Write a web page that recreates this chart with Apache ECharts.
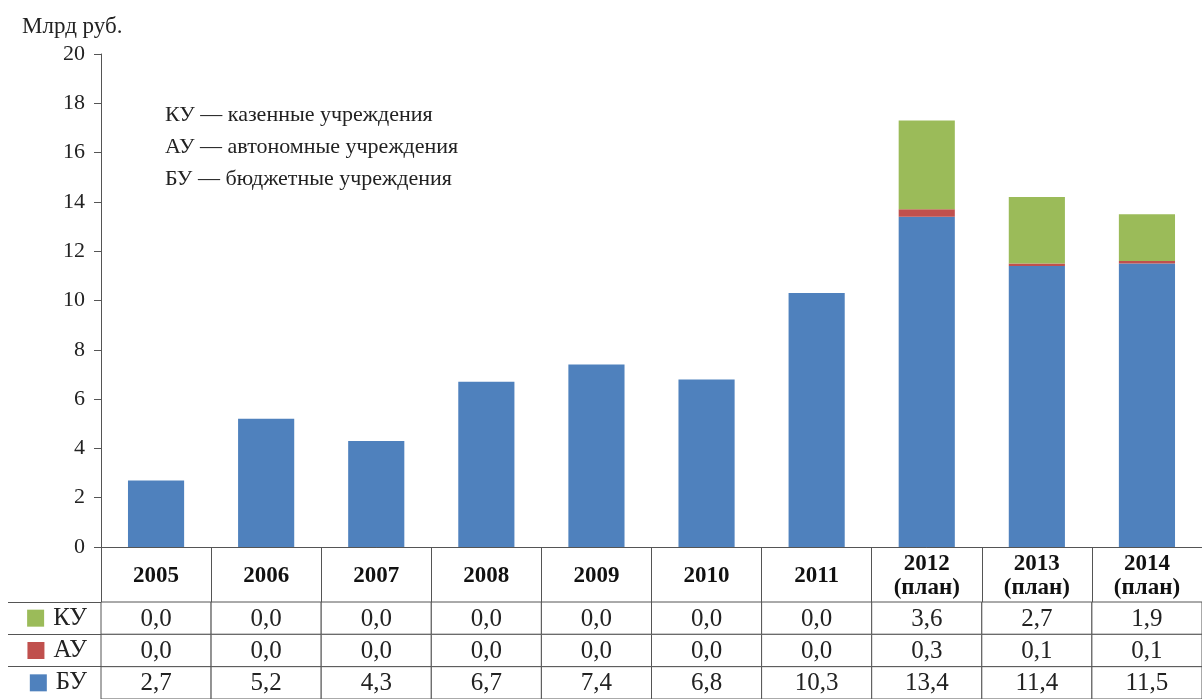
<!DOCTYPE html>
<html>
<head>
<meta charset="utf-8">
<script src="https://cdn.jsdelivr.net/npm/echarts@6/dist/echarts.min.js"></script>
<style>html,body{margin:0;padding:0;background:#fff}#c{width:1202px;height:699px}</style>
</head>
<body>
<div id="c"></div>
<script>
var years = ['2005','2006','2007','2008','2009','2010','2011','2012\n(план)','2013\n(план)','2014\n(план)'];
var seriesNames = ['КУ','АУ','БУ'];
var KU = [0.0,0.0,0.0,0.0,0.0,0.0,0.0,3.6,2.7,1.9];
var AU = [0.0,0.0,0.0,0.0,0.0,0.0,0.0,0.3,0.1,0.1];
var BU = [2.7,5.2,4.3,6.7,7.4,6.8,10.3,13.4,11.4,11.5];
var colors = {'КУ':'#9bbb59','АУ':'#c0504d','БУ':'#4f81bd'};
var noteLines = ['КУ — казенные учреждения','АУ — автономные учреждения','БУ — бюджетные учреждения'];
var yTitle = 'Млрд руб.';

var FONT = 'Liberation Serif';
var AX = '#555555';
var rows = {'КУ':KU,'АУ':AU,'БУ':BU};
var tableData = [];
seriesNames.forEach(function(n, r){
  rows[n].forEach(function(v, i){ tableData.push([i, r, v]); });
});

var chart = echarts.init(document.getElementById('c'));
chart.setOption({
  animation: false,
  backgroundColor: '#fff',
  title: [{
    text: yTitle, left: 17, top: 10,
    textStyle: {fontFamily: FONT, fontSize: 23, fontWeight: 'normal', color: '#222'}
  },{
    text: noteLines.join('\n'), left: 160, top: 94,
    textStyle: {fontFamily: FONT, fontSize: 22, fontWeight: 'normal', color: '#222', lineHeight: 32}
  }],
  grid: [
    {left: 101, right: -5, top: 54, bottom: 152, containLabel: false},
    {left: 101, right: -5, top: 602, height: 102, containLabel: false}
  ],
  xAxis: [{
    type: 'category', gridIndex: 0, data: years,
    axisLine: {lineStyle: {color: AX, width: 1}},
    axisTick: {show: true, length: 56, alignWithLabel: false, lineStyle: {color: AX}},
    axisLabel: {
      fontFamily: FONT, fontSize: 23, fontWeight: 'bold', color: '#111',
      margin: 29, verticalAlign: 'middle', lineHeight: 24, interval: 0
    }
  },{
    type: 'category', gridIndex: 1, data: years,
    axisLine: {show: false}, axisTick: {show: false}, axisLabel: {show: false}
  }],
  yAxis: [{
    type: 'value', gridIndex: 0, min: 0, max: 20, interval: 2,
    axisLine: {show: true, lineStyle: {color: AX}},
    axisTick: {show: true, length: 7, lineStyle: {color: AX}},
    splitLine: {show: false},
    axisLabel: {fontFamily: FONT, fontSize: 22, color: '#222', margin: 16}
  },{
    type: 'category', gridIndex: 1, data: seriesNames, inverse: true,
    axisLine: {show: true, lineStyle: {color: AX}},
    axisTick: {show: true, length: 93, alignWithLabel: false, lineStyle: {color: AX}},
    axisLabel: {
      margin: 14, color: '#222',
      formatter: function(v){
        var key = v === 'КУ' ? 'g' : (v === 'АУ' ? 'r' : 'b');
        return '{' + key + '|}{t|' + v + '}';
      },
      rich: {
        g: {width: 17, height: 17, backgroundColor: colors['КУ']},
        r: {width: 17, height: 17, backgroundColor: colors['АУ']},
        b: {width: 17, height: 17, backgroundColor: colors['БУ']},
        t: {fontFamily: FONT, fontSize: 25, color: '#222', padding: [0,0,0,9]}
      }
    }
  },{
    type: 'category', gridIndex: 1, data: seriesNames, inverse: true, offset: 93,
    axisLine: {show: true, lineStyle: {color: AX}},
    axisTick: {show: false}, axisLabel: {show: false}
  }],
  series: [{
    name: 'БУ', type: 'bar', stack: 's', data: BU, barWidth: '51%',
    xAxisIndex: 0, yAxisIndex: 0, itemStyle: {color: colors['БУ']}
  },{
    name: 'АУ', type: 'bar', stack: 's', data: AU, barWidth: '51%',
    xAxisIndex: 0, yAxisIndex: 0, itemStyle: {color: colors['АУ']}
  },{
    name: 'КУ', type: 'bar', stack: 's', data: KU, barWidth: '51%',
    xAxisIndex: 0, yAxisIndex: 0, itemStyle: {color: colors['КУ']}
  },{
    type: 'custom', xAxisIndex: 1, yAxisIndex: 1, data: tableData,
    renderItem: function(params, api){
      var c = api.coord([api.value(0), api.value(1)]);
      var s = api.size([1, 1]);
      var txt = api.value(2).toFixed(1).replace('.', ',');
      return {
        type: 'group',
        children: [{
          type: 'rect',
          shape: {x: c[0] - s[0]/2, y: c[1] - s[1]/2, width: s[0], height: s[1]},
          style: {fill: '#fff', stroke: AX, lineWidth: 1}
        },{
          type: 'text',
          style: {x: c[0], y: c[1] + 1, text: txt, align: 'center', verticalAlign: 'middle',
                  font: '25px "Liberation Serif"', fill: '#222'}
        }]
      };
    }
  }]
});
</script>
</body>
</html>
